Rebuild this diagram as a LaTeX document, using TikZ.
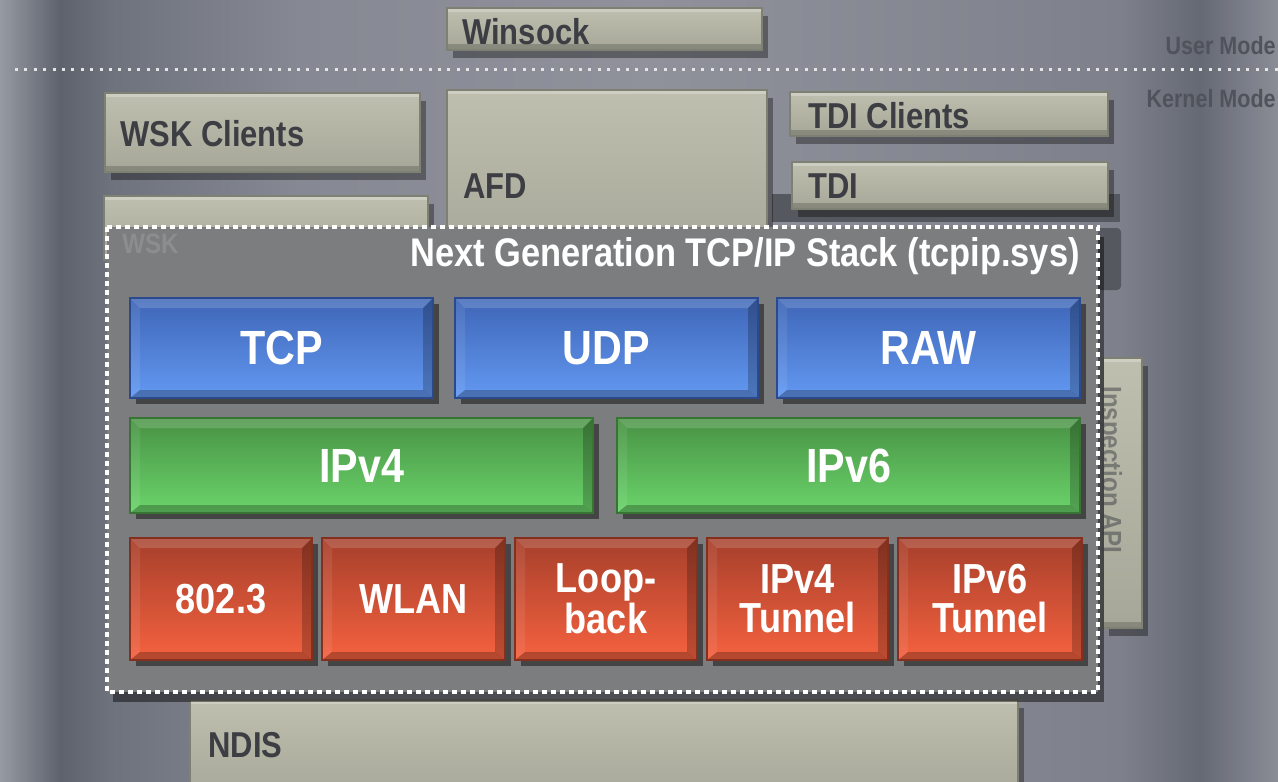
\documentclass[tikz,border=0pt]{standalone}
\usepackage{fontspec}
\newfontfamily\cond{Liberation Sans}[FakeStretch=0.86]
\usetikzlibrary{shadows}
\definecolor{bgA}{HTML}{969AA2}
\definecolor{bgB}{HTML}{5E626D}
\definecolor{bgC}{HTML}{6E727D}
\definecolor{bgD}{HTML}{868993}
\definecolor{bgE}{HTML}{8F929B}
\definecolor{bgG}{HTML}{7E818B}
\definecolor{bgH}{HTML}{656974}
\definecolor{bgF}{HTML}{8A8D96}
\definecolor{gtop}{HTML}{BEBFAE}
\definecolor{gbot}{HTML}{A6A798}
\definecolor{gedge}{HTML}{7E8074}
\definecolor{gtext}{HTML}{3C3E44}
\definecolor{stackfill}{HTML}{7C7D7F}
\definecolor{btop}{HTML}{3E65B6}
\definecolor{bbot}{HTML}{6399F2}
\definecolor{bedge}{HTML}{2B4A8E}
\definecolor{grtop}{HTML}{489244}
\definecolor{grbot}{HTML}{6BD46B}
\definecolor{gredge}{HTML}{387535}
\definecolor{rtop}{HTML}{A63F2B}
\definecolor{rbot}{HTML}{F5623F}
\definecolor{redge}{HTML}{85301F}
\definecolor{modetext}{HTML}{50535C}
\definecolor{darkback}{HTML}{55585F}
\newcommand\pbox[7]{\node[#2, anchor=north west, minimum width={(#5-#3)*0.5pt}, minimum height={(#6-#4)*0.5pt}] (#1) at (#3,#4) {#7};}
\tikzset{
  x=0.5pt, y=-0.5pt,
  graybox/.style={inner sep=0pt, outer sep=0pt, top color=gtop, bottom color=gbot, draw=gedge, line width=0.6pt,
    drop shadow={shadow xshift=3pt, shadow yshift=-4pt, opacity=.35, fill=black},
    path picture={
      \fill[white,opacity=.25] (path picture bounding box.north west) rectangle ([yshift=-2pt]path picture bounding box.north east);
      \fill[black,opacity=.18] (path picture bounding box.south west) rectangle ([yshift=3pt]path picture bounding box.south east);}},
  glabel/.style={font=\cond\bfseries\fontsize{18}{20}\selectfont, text=gtext, inner sep=0pt},
  modelabel/.style={font=\cond\bfseries\fontsize{12.5}{14}\selectfont, text=modetext, inner sep=0pt},
  colbox/.style={inner sep=0pt, outer sep=0pt, draw=#1edge, line width=0.8pt, top color=#1top, bottom color=#1bot,
    text=white, align=center,
    drop shadow={shadow xshift=3pt, shadow yshift=-3pt, opacity=.45, fill=black},
    path picture={
      \fill[white,opacity=.16] (path picture bounding box.north west) -- (path picture bounding box.north east)
        -- ([xshift=-5pt,yshift=-5pt]path picture bounding box.north east) -- ([xshift=5pt,yshift=-5pt]path picture bounding box.north west) -- cycle;
      \fill[black,opacity=.25] (path picture bounding box.south west) -- (path picture bounding box.south east)
        -- ([xshift=-5pt,yshift=4pt]path picture bounding box.south east) -- ([xshift=5pt,yshift=4pt]path picture bounding box.south west) -- cycle;
      \fill[black,opacity=.22] (path picture bounding box.north east) -- (path picture bounding box.south east)
        -- ([xshift=-5pt,yshift=4pt]path picture bounding box.south east) -- ([xshift=-5pt,yshift=-5pt]path picture bounding box.north east) -- cycle;
      \fill[white,opacity=.08] (path picture bounding box.north west) -- (path picture bounding box.south west)
        -- ([xshift=5pt,yshift=4pt]path picture bounding box.south west) -- ([xshift=5pt,yshift=-5pt]path picture bounding box.north west) -- cycle;}},
  bluebox/.style={colbox=b, font=\cond\bfseries\fontsize{24}{26}\selectfont},
  greenbox/.style={colbox=gr, font=\cond\bfseries\fontsize{24}{26}\selectfont},
  redbox/.style={colbox=r, font=\cond\bfseries\fontsize{21}{19.5}\selectfont},
}
\begin{document}
\begin{tikzpicture}
% background
\useasboundingbox (0,0) rectangle (1278,781);
\shade[left color=bgA, right color=bgB] (0,0) rectangle (60,781);
\shade[left color=bgB, right color=bgC] (59,0) rectangle (110,781);
\shade[left color=bgC, right color=bgD] (109,0) rectangle (300,781);
\shade[left color=bgD, right color=bgE] (299,0) rectangle (650,781);
\shade[left color=bgE, right color=bgG] (649,0) rectangle (1120,781);
\shade[left color=bgG, right color=bgH] (1119,0) rectangle (1200,781);
\shade[left color=bgH, right color=bgF] (1199,0) rectangle (1278,781);
% dark structures behind
\fill[darkback] (772,194) rectangle (1120,222);
\fill[darkback, rounded corners=2pt] (1096,228) rectangle (1121,290);
% inspection API box
\pbox{insp}{graybox}{1103}{358}{1142}{628}{}
% gray boxes
\pbox{winsock}{graybox}{447}{8}{762}{50}{}
\pbox{wskclients}{graybox}{105}{93}{420}{172}{}
\pbox{afd}{graybox}{447}{90}{767}{260}{}
\pbox{tdiclients}{graybox}{790}{92}{1108}{136}{}
\pbox{tdi}{graybox}{792}{162}{1108}{209}{}
\pbox{wsk}{graybox}{104}{196}{428}{260}{}
\pbox{ndis}{graybox}{190}{700}{1018}{800}{}
\node[glabel, anchor=west] (winsocktext) at (462,32) {Winsock};
\node[glabel, anchor=west] (wskclientstext) at (120,134) {WSK Clients};
\node[glabel, anchor=west] (afdtext) at (463,186) {AFD};
\node[glabel, anchor=west] (tdiclientstext) at (808,116) {TDI Clients};
\node[glabel, anchor=west] (tditext) at (808,186) {TDI};
\node[glabel, anchor=west] (ndistext) at (208,745) {NDIS};
% user / kernel mode separator
\coordinate (sepL) at (15,70);
\coordinate (sepR) at (1278,70);
\draw[color=white!80!gray, line width=1.5pt, dash pattern=on 1.5pt off 3.2pt] (sepL) -- (sepR);
\node[modelabel, anchor=east] (usermode) at (1276,46) {User Mode};
\node[modelabel, anchor=east] (kernelmode) at (1276,99) {Kernel Mode};
% stack
\fill[stackfill, drop shadow={shadow xshift=3pt, shadow yshift=-5pt, opacity=.45, fill=black}] (107,227) rectangle (1098,692);
\node[font=\cond\bfseries\fontsize{14}{16}\selectfont, text=stackfill!88!white, anchor=west, inner sep=0pt] (wsktext) at (122,244) {WSK};
\node[font=\cond\bfseries\fontsize{14}{16}\selectfont, text=gtext, opacity=.5, rotate=-90, inner sep=0pt] (insptext) at (1109,470) {Inspection API};
\node[coordinate] (stackNW) at (107,227) {};
\node[coordinate] (stackSE) at (1098,692) {};
\draw[white, line width=2.2pt, dash pattern=on 2.4pt off 2.1pt] (stackNW) rectangle (stackSE);
\node[font=\cond\bfseries\fontsize{20}{22}\selectfont, text=white, anchor=east, inner sep=0pt] (title) at (1080,256) {Next Generation TCP/IP Stack (tcpip.sys)};
% transport
\pbox{tcp}{bluebox}{130}{298}{433}{398}{TCP}
\pbox{udp}{bluebox}{455}{298}{758}{398}{UDP}
\pbox{raw}{bluebox}{777}{298}{1080}{398}{RAW}
% network
\pbox{ipv4}{greenbox}{130}{418}{593}{513}{IPv4}
\pbox{ipv6}{greenbox}{617}{418}{1080}{513}{IPv6}
% framing
\pbox{eth}{redbox}{130}{538}{312}{660}{802.3}
\pbox{wlan}{redbox}{322}{538}{505}{660}{WLAN}
\pbox{loop}{redbox}{515}{538}{697}{660}{Loop-\\back}
\pbox{tun4}{redbox}{707}{538}{888}{660}{IPv4\\Tunnel}
\pbox{tun6}{redbox}{898}{538}{1082}{660}{IPv6\\Tunnel}
\end{tikzpicture}
\end{document}
